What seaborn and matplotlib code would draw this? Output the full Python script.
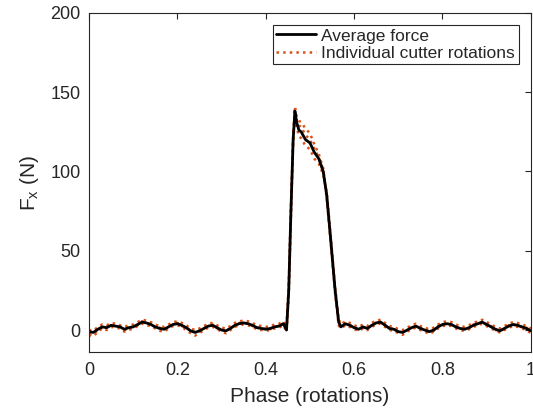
#!/usr/bin/env python3
"""Cutter force Fx vs phase: average and individual rotations."""
import pandas as pd
import matplotlib
matplotlib.use("Agg")
import matplotlib.pyplot as plt
import seaborn as sns

# phase (rotations)
phase = [0.00, 0.01, 0.02, 0.03, 0.04, 0.05, 0.06, 0.07, 0.08, 0.09,
         0.10, 0.11, 0.12, 0.13, 0.14, 0.15, 0.16, 0.17, 0.18, 0.19,
         0.20, 0.21, 0.22, 0.23, 0.24, 0.25, 0.26, 0.27, 0.28, 0.29,
         0.30, 0.31, 0.32, 0.33, 0.34, 0.35, 0.36, 0.37, 0.38, 0.39,
         0.40, 0.41, 0.42, 0.43, 0.44,
         0.447, 0.452, 0.457, 0.462, 0.466, 0.470, 0.475, 0.480, 0.49, 0.50,
         0.51, 0.52, 0.53, 0.538, 0.547, 0.557, 0.565,
         0.57, 0.58, 0.59, 0.60, 0.61, 0.62, 0.63, 0.64, 0.65, 0.66,
         0.67, 0.68, 0.69, 0.70, 0.71, 0.72, 0.73, 0.74, 0.75, 0.76,
         0.77, 0.78, 0.79, 0.80, 0.81, 0.82, 0.83, 0.84, 0.85, 0.86,
         0.87, 0.88, 0.89, 0.90, 0.91, 0.92, 0.93, 0.94, 0.95, 0.96,
         0.97, 0.98, 0.99, 1.00]

avg_force = [-1, -1.5, 0.5, 2, 1.5, 3, 2.5, 2, 0.5, 1.5,
             2, 3.5, 5, 4.5, 3.5, 2, 1, 0.5, 2, 3.5,
             4, 3, 1.5, -0.5, -1.5, -0.5, 1, 2.5, 3, 1.5,
             0, -0.5, 1, 3, 4, 4.5, 4, 3, 1.5, 1,
             0.5, 1, 2, 2.5, 4,
             0, 25, 75, 120, 138, 131, 126, 125, 120, 118,
             112, 108, 100, 85, 57, 25, 5,
             2, 4, 3, 1.5, 0.5, 2, 1, 3, 4.5, 5,
             3, 1, 0.5, -1, -1.5, 0, 1.5, 2.5, 1, 0,
             -1, 0, 2, 3.5, 4, 3.5, 2, 1, 0.5, 1.5,
             3, 4, 5, 3.5, 2, 0.5, -0.5, 1, 2.5, 3.5,
             3, 2, 1, -0.5]

rot_1 = [-3, -4, -1, 1, 0, 2, 1.5, 1, -1, 0,
         1, 2.5, 4, 3, 2.5, 1, -0.5, -1, 1, 2.5,
         3, 2, 0, -2, -3.5, -2, 0, 1.5, 2, 0.5,
         -1, -2, 0, 2, 3, 3.5, 3, 2, 0.5, 0,
         -0.5, 0, 1, 1.5, 3,
         -1, 22, 72, 122, 141, 135, 132, 131, 127, 124,
         117, 111, 102, 83, 55, 23, 3,
         1, 3, 2, 0.5, -0.5, 1, 0, 2, 3.5, 4,
         2, 0, -0.5, -2, -3, -1, 0.5, 1.5, 0, -1,
         -2.5, -1, 1, 2.5, 3, 2.5, 1, 0, -0.5, 0.5,
         2, 3, 4, 2.5, 1, -0.5, -1.5, 0, 1.5, 2.5,
         2, 1, 0, -2]

rot_2 = [0, -0.5, 2, 3.5, 3, 4.5, 4, 3, 2, 3,
         3.5, 5, 6.5, 6, 5, 3.5, 2.5, 2, 3.5, 5,
         5.5, 4.5, 3, 1, 0, 1, 2.5, 4, 4.5, 3,
         1.5, 1, 2.5, 4.5, 5.5, 6, 5.5, 4.5, 3, 2.5,
         2, 2.5, 3.5, 4, 5.5,
         2, 28, 78, 118, 135, 128, 122, 121, 116, 114,
         108, 105, 98, 87, 59, 27, 7,
         3.5, 5.5, 4.5, 3, 2, 3.5, 2.5, 4.5, 6, 6.5,
         4.5, 2.5, 2, 0.5, 0, 1.5, 3, 4, 2.5, 1.5,
         0.5, 1.5, 3.5, 5, 5.5, 5, 3.5, 2.5, 2, 3,
         4.5, 5.5, 6.5, 5, 3.5, 2, 1, 2.5, 4, 5,
         4.5, 3.5, 2.5, 1]

rot_3 = [-2, -2.5, 0, 1.5, 2.5, 3.5, 2, 2.5, 0, 1,
         2.5, 3, 5.5, 4, 4, 1.5, 1.5, 0, 2.5, 3,
         4.5, 2.5, 2, -1, -1, -1, 1.5, 2, 3.5, 1,
         0.5, -1, 1.5, 2.5, 4.5, 4, 4.5, 2.5, 2, 0.5,
         1, 0.5, 2.5, 2, 4.5,
         1, 25, 76, 121, 137, 132, 129, 128, 123, 120,
         114, 109, 101, 84, 56, 25, 5,
         2.5, 3.5, 3.5, 1, 1, 1.5, 1.5, 2.5, 5, 4.5,
         3.5, 0.5, 1, -1.5, -1, -0.5, 2, 2, 1.5, -0.5,
         -0.5, -0.5, 2.5, 3, 4.5, 3, 2.5, 0.5, 1, 1,
         3.5, 3.5, 5.5, 3, 2.5, 0, 0, 0.5, 3, 3,
         3.5, 1.5, 1.5, -1]

x_ticks = [0, 0.2, 0.4, 0.6, 0.8, 1]
x_ticklabels = ["0", "0.2", "0.4", "0.6", "0.8", "1"]
y_ticks = [0, 50, 100, 150, 200]

ORANGE = "#D95319"

sns.set_style("white")
plt.rcParams["font.family"] = ["Liberation Sans", "DejaVu Sans"]
plt.rcParams["mathtext.fontset"] = "custom"
plt.rcParams["mathtext.rm"] = "Liberation Sans"
plt.rcParams["mathtext.it"] = "Liberation Sans"

fig = plt.figure(figsize=(5.33, 4.12), dpi=100)
ax = fig.add_axes([0.167, 0.145, 0.829, 0.824])

for i, rot in enumerate([rot_1, rot_2, rot_3]):
    df = pd.DataFrame({"phase": phase, "fx": rot})
    sns.lineplot(data=df, x="phase", y="fx", ax=ax, color=ORANGE,
                 linestyle=":", linewidth=1.8, sort=False,
                 label="Individual cutter rotations" if i == 0 else None)

avg_df = pd.DataFrame({"phase": phase, "fx": avg_force})
sns.lineplot(data=avg_df, x="phase", y="fx", ax=ax, color="black",
             linewidth=2.0, sort=False, label="Average force")

ax.set_xlim(0, 1)
ax.set_ylim(-14, 200)
ax.set_xticks(x_ticks)
ax.set_xticklabels(x_ticklabels)
ax.set_yticks(y_ticks)
ax.tick_params(direction="in", top=True, right=True, length=4,
               width=0.8, labelsize=13, colors="#262626")
ax.tick_params(axis="x", pad=7)
ax.tick_params(axis="y", pad=6)
for sp in ax.spines.values():
    sp.set_color("#262626")
    sp.set_linewidth(0.8)
ax.set_xlabel("Phase (rotations)", fontsize=15, color="#262626", labelpad=6)
ax.set_ylabel(r"F$_\mathregular{x}$ (N)", fontsize=15, color="#262626", labelpad=7)

# legend: average first, then individual
handles, labels = ax.get_legend_handles_labels()
order = [labels.index("Average force"), labels.index("Individual cutter rotations")]
leg = ax.legend([handles[k] for k in order], [labels[k] for k in order],
                loc="upper right", fontsize=12.5, frameon=True, fancybox=False,
                edgecolor="#262626", framealpha=1, borderpad=0.2,
                handlelength=2.3, handletextpad=0.3, labelspacing=0.12,
                borderaxespad=0.7)
leg.get_frame().set_linewidth(0.8)

plt.savefig("out.png", dpi=100)
plt.close()
